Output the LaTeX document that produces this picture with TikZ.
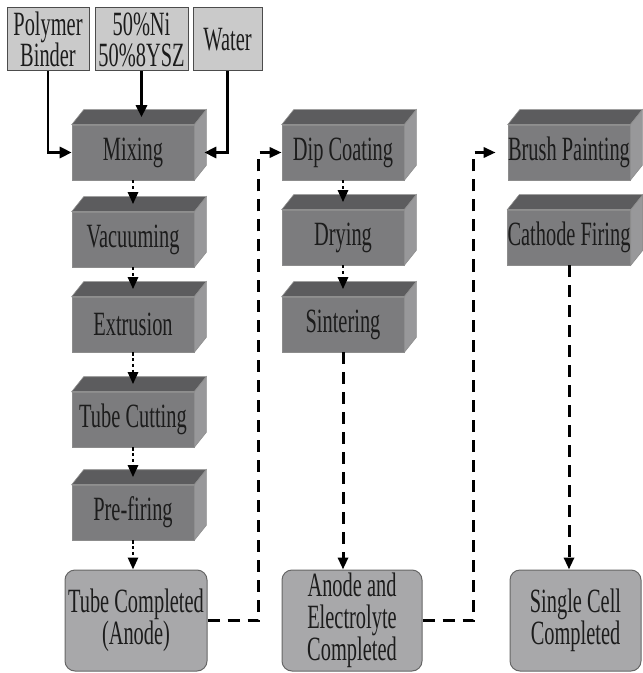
\documentclass[tikz,border=0pt]{standalone}
\usepackage{fontspec}
\setmainfont{Liberation Serif}[FakeStretch=0.6]
\usetikzlibrary{arrows.meta,calc}
\definecolor{facefront}{RGB}{124,124,126}
\definecolor{facetop}{RGB}{92,92,94}
\definecolor{faceside}{RGB}{152,152,154}
\definecolor{rawfill}{RGB}{202,202,202}
\definecolor{donefill}{RGB}{168,168,170}
\definecolor{inkgray}{RGB}{28,28,28}

\begin{document}
\begin{tikzpicture}[x=0.5pt,y=-0.5pt,
    every node/.style={font=\fontsize{17}{16}\selectfont,text=inkgray},
    stage/.style={rectangle,fill=facefront,draw=black!45,line width=0.3pt,
      minimum width=61pt,minimum height=27.5pt,inner sep=0pt},
    rawbox/.style={rectangle,fill=rawfill,draw=black!70,line width=0.5pt,
      minimum height=31.5pt,inner sep=0pt,align=center,
      font=\fontsize{17}{15.5}\selectfont},
    donebox/.style={rectangle,rounded corners=5pt,fill=donefill,draw=black!60,
      line width=0.5pt,minimum height=50.5pt,inner sep=0pt,align=center},
    feed/.style={line width=1.4pt,-{Triangle[length=6pt,width=5.5pt]}},
    flow/.style={line width=1.3pt,dash pattern=on 1.6pt off 1.3pt,
      -{Triangle[length=6pt,width=5pt]}},
    link/.style={line width=1.5pt,dash pattern=on 6pt off 4pt,
      -{Triangle[length=6pt,width=5pt]}}]
  \useasboundingbox (0,0) rectangle (642,673);
  % Raw materials
  \node[rawbox,minimum width=41pt] (poly) at (48,39.5) {Polymer\\Binder};
  \node[rawbox,minimum width=46.5pt] (ni) at (141.5,39.5) {50\%Ni\\50\%8YSZ};
  \node[rawbox,minimum width=34.5pt] (water) at (227.5,39.5) {Water};
  % Anode tube
  \node[stage] (mix) at (133,152.5) {Mixing};
  \node[stage] (vac) at (133,239.5) {Vacuuming};
  \node[stage] (ext) at (133,324.5) {Extrusion};
  \node[stage] (cut) at (133,419.5) {Tube Cutting};
  \node[stage] (pre) at (133,512.5) {Pre-firing};
  % Electrolyte
  \node[stage] (dip) at (343,152.5) {Dip Coating};
  \node[stage] (dry) at (343,237.5) {Drying};
  \node[stage] (sin) at (343,324.5) {Sintering};
  % Cathode
  \node[stage] (bru) at (569,152.5) {Brush Painting};
  \node[stage] (cat) at (569,237.5) {Cathode Firing};
  % 3D faces
  \foreach \n in {mix,vac,ext,cut,pre,dip,dry,sin,bru,cat}{
    \path[fill=facetop,draw=black!45,line width=0.3pt] (\n.north west) -- ++(12,-15)
      -- ($(\n.north east)+(12,-15)$) -- (\n.north east) -- cycle;
    \path[fill=faceside,draw=black!45,line width=0.3pt] (\n.north east) -- ++(12,-15)
      -- ($(\n.south east)+(12,-15)$) -- (\n.south east) -- cycle;
    \coordinate (\n-top) at ($(\n.north)+(6,-7.5)$);
    \coordinate (\n-side) at ($(\n.east)+(10,0)$);
  }
  % Completed parts
  \node[donebox,minimum width=71pt] (tubedone) at (136,620.5)
    {Tube Completed\\(Anode)};
  \node[donebox,minimum width=70pt] (anodedone) at (352,620.5)
    {Anode and\\Electrolyte\\Completed};
  \node[donebox,minimum width=65.5pt] (celldone) at (575.5,620.5)
    {Single Cell\\Completed};
  % Feed arrows
  \draw[feed] (poly.south) |- (mix.west);
  \draw[feed] (ni.south) -- (ni.south |- mix-top);
  \draw[feed] (water.south) |- (mix-side);
  % Process flow
  \foreach \a/\b in {mix/vac,vac/ext,ext/cut,cut/pre,dip/dry,dry/sin}
    \draw[flow] (\a.south) -- (\a.south |- \b-top);
  \draw[flow] (pre.south) -- (pre.south |- tubedone.north);
  \draw[link] (sin.south) -- (sin.south |- anodedone.north);
  \draw[link] (cat.south) -- (cat.south |- celldone.north);
  \draw[link] (tubedone.east) -- ++(51,0) |- (dip.west);
  \draw[link,shorten >=6pt] (anodedone.east) -- ++(51,0) |- (bru.west);
\end{tikzpicture}
\end{document}
